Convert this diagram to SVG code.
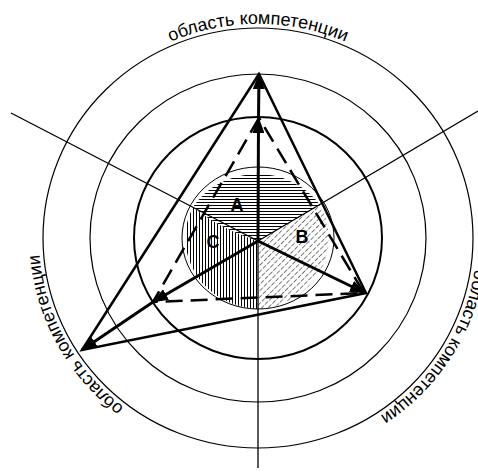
<svg xmlns="http://www.w3.org/2000/svg" width="478" height="472" viewBox="0 0 478 472">
<style>
.ring{fill:none;stroke:#000;stroke-width:1.2}
.bold{stroke-width:2}
.ray{stroke:#000;stroke-width:1.3;fill:none}
.arr{stroke:#000;stroke-width:3;fill:none;marker-end:url(#ah)}
.tri{stroke:#000;stroke-width:2.5;fill:none;stroke-linejoin:miter}
.dash{stroke:#000;stroke-width:2.5;fill:none;stroke-dasharray:17 8}
.lbl{font-family:"Liberation Sans",Arial,sans-serif;font-size:18px;fill:#000}
.zone{font-family:"Liberation Sans",Arial,sans-serif;font-size:18px;font-weight:bold;fill:#000}
</style>
<defs>
<marker id="ah" markerWidth="17" markerHeight="12" refX="15" refY="6" orient="auto" markerUnits="userSpaceOnUse"><path d="M0,0 L16,6 L0,12 Z" fill="#000"/></marker>
<pattern id="hA" patternUnits="userSpaceOnUse" width="6" height="3"><line x1="0" y1="1.5" x2="6" y2="1.5" stroke="#000" stroke-width="1"/></pattern>
<pattern id="hC" patternUnits="userSpaceOnUse" width="3" height="6"><line x1="1.5" y1="0" x2="1.5" y2="6" stroke="#000" stroke-width="1"/></pattern>
<pattern id="hB" patternUnits="userSpaceOnUse" width="4.5" height="6" patternTransform="rotate(45)"><line x1="2.25" y1="0" x2="2.25" y2="6" stroke="#666" stroke-width="0.9" stroke-dasharray="4 1.5"/></pattern>
<path id="tpTop" d="M68.3,131 A219,214 0 0,1 447.7,131"/>
<path id="tpLeft" d="M250.4,451.9 A219,214 0 0,1 72.3,124.6"/>
<path id="tpRight" d="M451,137 A219,214 0 0,1 250,452"/>
</defs>
<rect width="478" height="472" fill="#fff"/>
<g id="rings">
<ellipse class="ring" cx="258" cy="238" rx="215" ry="210"/>
<ellipse class="ring" cx="258" cy="238" rx="168" ry="164"/>
<ellipse class="ring bold" cx="258" cy="238" rx="124" ry="121"/>
</g>
<g id="zone-A">
<path d="M258,241 Q218,228 193,207 A76,71 0 0,1 320,205 Z" fill="url(#hA)"/>
<text class="zone" x="237" y="211" text-anchor="middle">A</text>
</g>
<g id="zone-C">
<path d="M258,241 Q218,228 193,207 A76,71 0 0,0 258,309 Z" fill="url(#hC)"/>
<text class="zone" x="213" y="248" text-anchor="middle">C</text>
</g>
<g id="zone-B">
<path d="M258,241 L320,205 A76,71 0 0,1 258,309 Z" fill="url(#hB)"/>
<text class="zone" x="302" y="243" text-anchor="middle">B</text>
</g>
<ellipse cx="258" cy="238" rx="76" ry="71" fill="none" stroke="#000" stroke-width="1"/>
<g id="connectors">
<path class="ray" d="M11,113 L258,241"/>
<path class="ray" d="M478,111 L258,241"/>
<path class="ray" d="M258,241 L258,468"/>
<path class="tri" d="M259,74 L82,350 L366,293 Z"/>
<path class="dash" d="M259,118 L153,302 L364,293 Z"/>
<path class="arr" d="M258,241 L258.5,118"/>
<path class="arr" d="M258.5,118 L259,74"/>
<path class="arr" d="M258,241 L153,302"/>
<path class="arr" d="M153,302 L82,350"/>
<path class="arr" d="M258,241 L365,293"/>
</g>
<g id="labels">
<text class="lbl"><textPath href="#tpTop" startOffset="50%" text-anchor="middle">область компетенции</textPath></text>
<text class="lbl"><textPath href="#tpLeft" startOffset="50%" text-anchor="middle">область компетенции</textPath></text>
<text class="lbl"><textPath href="#tpRight" startOffset="50%" text-anchor="middle">область компетенции</textPath></text>
</g>
</svg>
